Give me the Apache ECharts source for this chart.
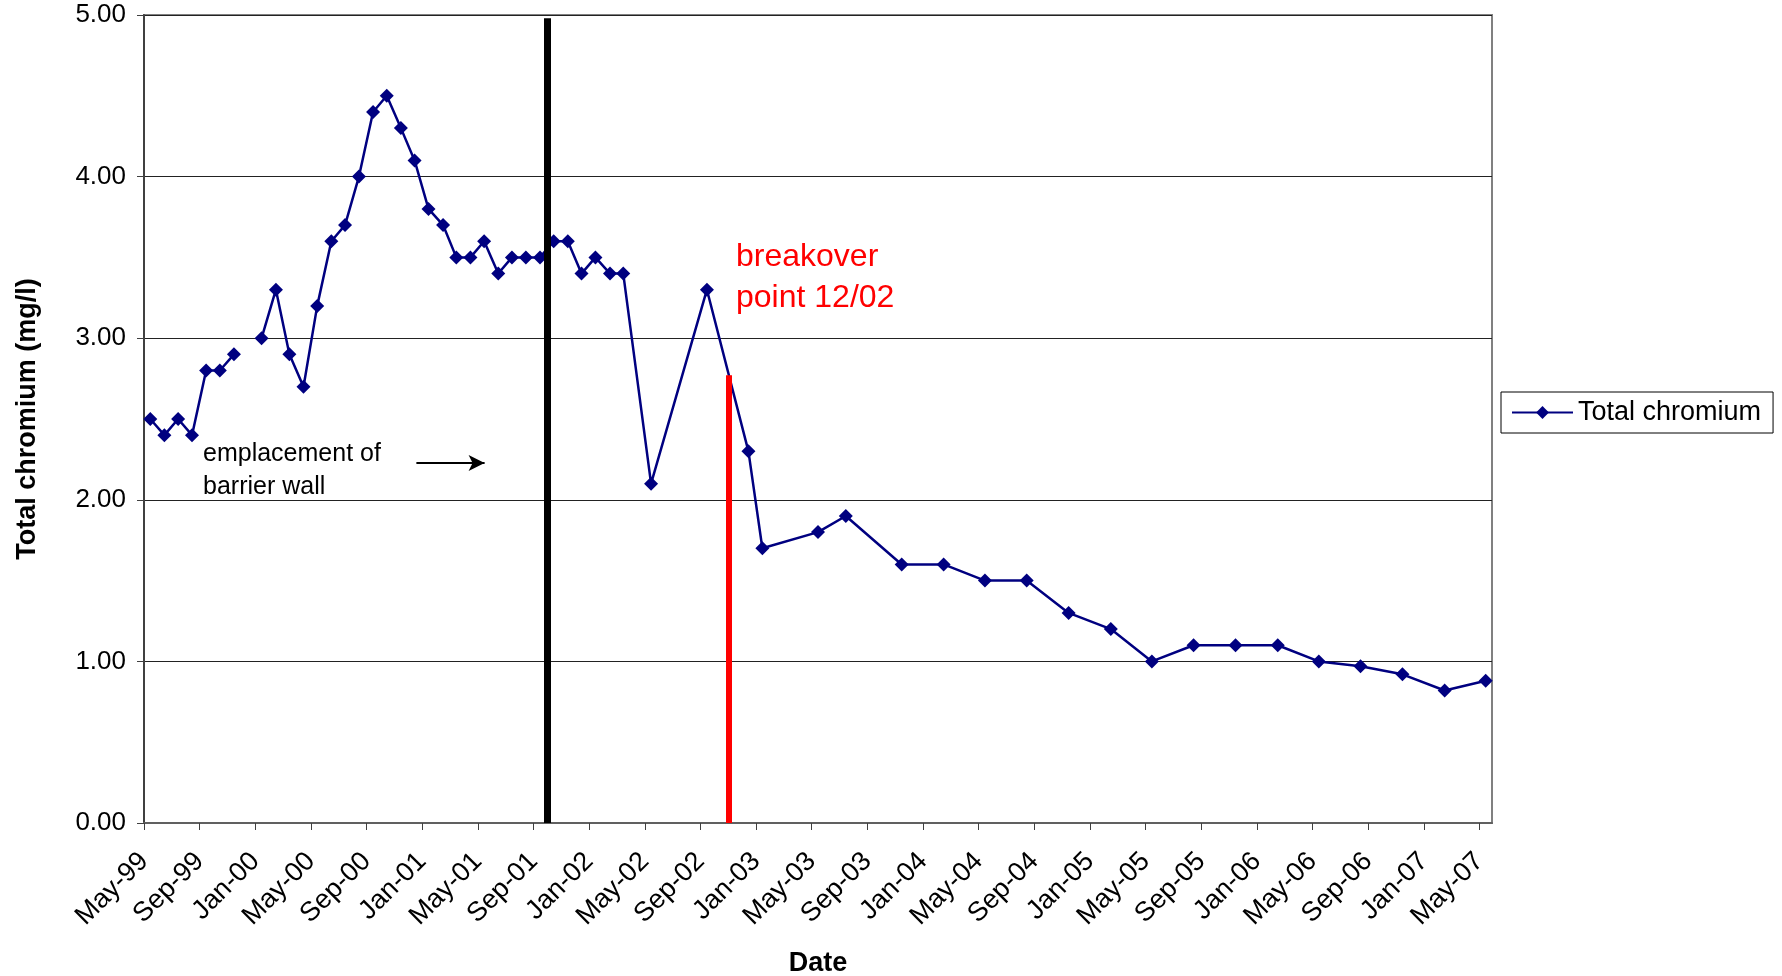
<!DOCTYPE html>
<html>
<head>
<meta charset="utf-8">
<title>Total chromium</title>
<script src="https://cdn.jsdelivr.net/npm/echarts@6/dist/echarts.min.js"></script>
<style>
  html, body { margin: 0; padding: 0; background: #fff; }
  #chromium { width: 1782px; height: 976px; }
</style>
</head>
<body>
<div id="chromium"></div>
<script>
// sampling dates (mid-month) and total chromium in mg/l, Dec-99 has no sample
const sampleDates = [
  '1999-05-15', '1999-06-15', '1999-07-15', '1999-08-15', '1999-09-15', '1999-10-15', '1999-11-15', '1999-12-15',
  '2000-01-15', '2000-02-15', '2000-03-15', '2000-04-15', '2000-05-15', '2000-06-15', '2000-07-15', '2000-08-15',
  '2000-09-15', '2000-10-15', '2000-11-15', '2000-12-15', '2001-01-15', '2001-02-15', '2001-03-15', '2001-04-15',
  '2001-05-15', '2001-06-15', '2001-07-15', '2001-08-15', '2001-09-15', '2001-10-15', '2001-11-15', '2001-12-15',
  '2002-01-15', '2002-02-15', '2002-03-15', '2002-05-15', '2002-09-15', '2002-12-15', '2003-01-15', '2003-05-15',
  '2003-07-15', '2003-11-15', '2004-02-15', '2004-05-15', '2004-08-15', '2004-11-15', '2005-02-15', '2005-05-15',
  '2005-08-15', '2005-11-15', '2006-02-15', '2006-05-15', '2006-08-15', '2006-11-15', '2007-02-15', '2007-05-15'
];
const totalChromium = [
  2.5, 2.4, 2.5, 2.4, 2.8, 2.8, 2.9, null,
  3.0, 3.3, 2.9, 2.7, 3.2, 3.6, 3.7, 4.0,
  4.4, 4.5, 4.3, 4.1, 3.8, 3.7, 3.5, 3.5,
  3.6, 3.4, 3.5, 3.5, 3.5, 3.6, 3.6, 3.4,
  3.5, 3.4, 3.4, 2.1, 3.3, 2.3, 1.7, 1.8,
  1.9, 1.6, 1.6, 1.5, 1.5, 1.3, 1.2, 1.0,
  1.1, 1.1, 1.1, 1.0, 0.97, 0.92, 0.82, 0.88
];
const tickLabels = [
  'May-99', 'Sep-99', 'Jan-00', 'May-00', 'Sep-00', 'Jan-01', 'May-01', 'Sep-01', 'Jan-02',
  'May-02', 'Sep-02', 'Jan-03', 'May-03', 'Sep-03', 'Jan-04', 'May-04', 'Sep-04', 'Jan-05',
  'May-05', 'Sep-05', 'Jan-06', 'May-06', 'Sep-06', 'Jan-07', 'May-07'
];
const yTicks = [0, 1, 2, 3, 4, 5];

const FONT = "'Liberation Sans', Arial, sans-serif";

// the x axis counts months from 1 May 1999 (like an Excel month-based date axis)
function toMonths(dateStr) {
  const p = dateStr.split('-').map(Number);
  const daysInMonth = new Date(p[0], p[1], 0).getDate();
  return (p[0] - 1999) * 12 + (p[1] - 5) + (p[2] - 1) / daysInMonth;
}
const tickValues = tickLabels.map((l, i) => i * 4);
const seriesData = sampleDates.map((d, i) => [toMonths(d), totalChromium[i]]);

const wallX = toMonths('2001-09-30');    // barrier wall
const breakX = toMonths('2002-11-02');   // breakover point
const arrowFrom = toMonths('2000-12-19');
const arrowTo = toMonths('2001-05-16');

const myChart = echarts.init(document.getElementById('chromium'));
const option = {
  animation: false,
  textStyle: { fontFamily: FONT, color: '#000' },
  grid: {
    left: 144,
    right: 290,
    top: 15,
    bottom: 153,
    show: true,
    borderColor: '#808080',
    borderWidth: 2,
    backgroundColor: '#fff',
    outerBoundsMode: 'none'
  },
  legend: {
    left: 1501,
    top: 392,
    orient: 'vertical',
    backgroundColor: '#fff',
    borderColor: '#000',
    borderWidth: 1,
    borderRadius: 0,
    padding: [7, 12, 7, 10],
    itemWidth: 61,
    itemHeight: 16,
    itemGap: 5,
    textStyle: { fontSize: 27, color: '#000', fontFamily: FONT },
    data: ['Total chromium']
  },
  xAxis: {
    type: 'value',
    min: 0,
    max: toMonths('2007-05-29'),
    name: 'Date',
    nameLocation: 'middle',
    nameGap: 127,
    nameTextStyle: { fontSize: 27, fontWeight: 'bold', color: '#000', fontFamily: FONT },
    axisLine: { onZero: false, lineStyle: { color: '#606060', width: 2 } },
    axisTick: { show: true, length: 7, lineStyle: { color: '#404040', width: 1 }, customValues: tickValues },
    axisLabel: {
      customValues: tickValues,
      rotate: 45,
      margin: 34,
      fontSize: 27,
      color: '#000',
      fontFamily: FONT,
      hideOverlap: false,
      formatter: (v) => tickLabels[Math.round(v / 4)] || ''
    },
    splitLine: { show: false }
  },
  yAxis: {
    type: 'value',
    min: 0,
    max: 5,
    interval: 1,
    name: 'Total chromium (mg/l)',
    nameLocation: 'middle',
    nameRotate: 90,
    nameGap: 103,
    nameTextStyle: { fontSize: 27, fontWeight: 'bold', color: '#000', fontFamily: FONT },
    axisLine: { show: true, lineStyle: { color: '#404040', width: 2 } },
    axisTick: { show: true, length: 7, lineStyle: { color: '#404040', width: 1 } },
    axisLabel: {
      margin: 18,
      fontSize: 26,
      color: '#000',
      fontFamily: FONT,
      formatter: (v) => yTicks.indexOf(v) >= 0 ? v.toFixed(2) : ''
    },
    splitLine: { show: true, lineStyle: { color: '#222', width: 1 } }
  },
  series: [
    {
      name: 'Total chromium',
      type: 'line',
      data: seriesData,
      connectNulls: false,
      symbol: 'diamond',
      symbolSize: 14,
      showAllSymbol: true,
      color: '#000080',
      lineStyle: { color: '#000080', width: 2.5 },
      itemStyle: { color: '#000080' },
      markLine: {
        silent: true,
        animation: false,
        label: { show: false },
        emphasis: { disabled: true },
        data: [
          [
            { coord: [wallX, 0], symbol: 'none', lineStyle: { color: '#000', width: 7, type: 'solid' } },
            { coord: [wallX, 4.98], symbol: 'none' }
          ],
          [
            { coord: [breakX, 0], symbol: 'none', lineStyle: { color: '#ff0000', width: 6, type: 'solid' } },
            { coord: [breakX, 2.77], symbol: 'none' }
          ],
          [
            { coord: [arrowFrom, 2.227], symbol: 'none', lineStyle: { color: '#000', width: 2, type: 'solid' } },
            { coord: [arrowTo, 2.227], symbol: 'arrow', symbolSize: [12, 16] }
          ]
        ]
      }
    }
  ],
  graphic: [
    {
      type: 'text',
      left: 203,
      top: 438,
      silent: true,
      style: { text: 'emplacement of\nbarrier wall', fontSize: 25, lineHeight: 33, fill: '#000', fontFamily: FONT }
    },
    {
      type: 'text',
      left: 736,
      top: 237,
      silent: true,
      style: { text: 'breakover\npoint 12/02', fontSize: 32, lineHeight: 41, fill: '#ff0000', fontFamily: FONT }
    }
  ]
};
myChart.setOption(option);
</script>
</body>
</html>
